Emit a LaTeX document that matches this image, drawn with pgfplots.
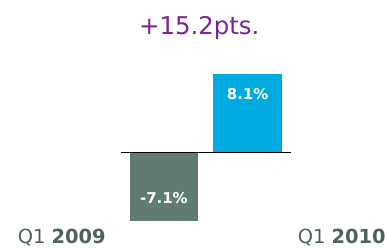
\documentclass[border=0pt]{standalone}
\usepackage{pgfplots}
\pgfplotsset{compat=1.18}
\usepackage{fontspec}
\setmainfont{DejaVu Sans}
\definecolor{barGray}{HTML}{607B73}
\definecolor{barBlue}{HTML}{00A9E0}
\definecolor{titlePurple}{HTML}{7E2096}
\definecolor{labGray}{HTML}{4C625A}
\begin{document}
\begin{tikzpicture}
\begin{axis}[
  width=389pt, height=245pt, scale only axis,
  xmin=-1.9583, xmax=2.6726, ymin=-9.455, ymax=15.72,
  hide axis, clip=false,
]
\path (rel axis cs:0,0) rectangle (rel axis cs:1,1);
\addplot[ybar, bar width=69pt, bar shift=0pt, fill=barGray, draw=none,
  point meta=explicit symbolic, nodes near coords,
  every node near coord/.append style={anchor=base, yshift=18pt, text=white, font=\fontsize{15}{18}\selectfont\bfseries}]
  coordinates {(0,-7.1) [-7.1\%]};
\addplot[ybar, bar width=69pt, bar shift=0pt, fill=barBlue, draw=none,
  point meta=explicit symbolic, nodes near coords,
  every node near coord/.append style={anchor=base, yshift=-25.7pt, text=white, font=\fontsize{15}{18}\selectfont\bfseries}]
  coordinates {(1,8.1) [8.1\%]};
\addplot[black, line width=1.2pt] coordinates {(-0.518,0) (1.518,0)};
\node[anchor=base, text=titlePurple, font=\fontsize{24.5}{28}\selectfont] at (axis cs:0.4226,12.13) {+15.2pts.};
\node[anchor=base, text=labGray, font=\fontsize{19.5}{22}\selectfont] at (axis cs:-1.220,-9.35) {Q1 \textbf{2009}};
\node[anchor=base, text=labGray, font=\fontsize{19.5}{22}\selectfont] at (axis cs:2.125,-9.35) {Q1 \textbf{2010}};
\end{axis}
\end{tikzpicture}
\end{document}
